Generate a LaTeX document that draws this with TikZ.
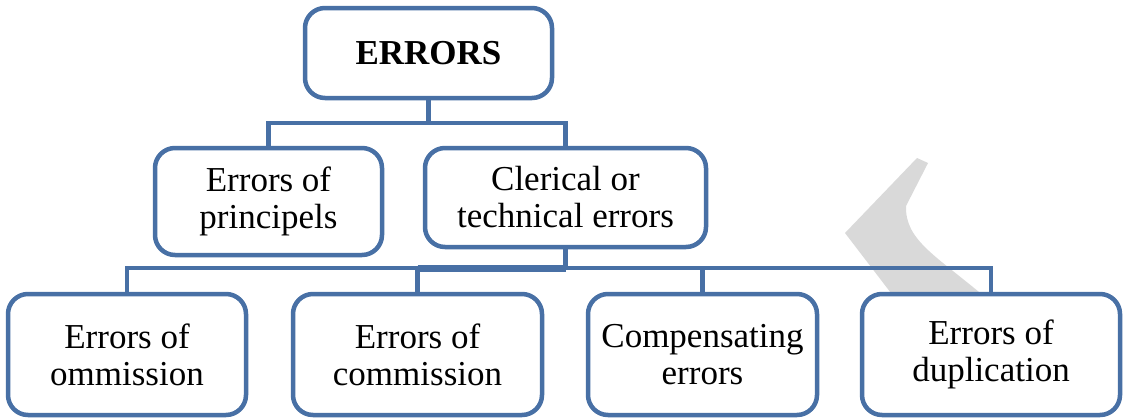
\documentclass[tikz,border=0pt]{standalone}
\usepackage{fontspec}
\setmainfont{Liberation Serif}
\definecolor{boxline}{RGB}{72,112,165}
\definecolor{swooshgray}{RGB}{217,217,217}
\begin{document}
\begin{tikzpicture}[x=1pt,y=-1pt,
  box/.style={draw=boxline, line width=4.5pt, fill=white, rounded corners=20pt,
    align=center, inner sep=0pt, font=\fontsize{35}{37}\selectfont},
  link/.style={draw=boxline, line width=4.5pt},
  heavylink/.style={draw=boxline, line width=7pt}]
\useasboundingbox[fill=white] (0,0) rectangle (1123,418);

% grey swoosh behind the lower tier
\fill[swooshgray] (845,233) -- (917,158) -- (928,163) -- (906,206)
  .. controls (905,240) and (935,255) .. (985,297) -- (894,297) -- cycle;

% levels of the horizontal bars
\coordinate (bar1) at (0,123);
\coordinate (bar2) at (0,268);

% top level
\node[box, minimum width=247pt, minimum height=90pt] (top) at (428.5,53) {\textbf{ERRORS}};

% second level
\node[box, minimum width=227pt, minimum height=107pt] (prin) at (268.5,201.5) {Errors of\\principels};
\node[box, minimum width=281pt, minimum height=99pt] (cler) at (565.5,197.5) {Clerical or\\technical errors};

% third level
\node[box, minimum width=238pt, minimum height=121pt] (omm)  at (127,354.5)   {Errors of\\ommission};
\node[box, minimum width=249pt, minimum height=121pt] (com)  at (417.5,354.5) {Errors of\\commission};
\node[box, minimum width=229pt, minimum height=121pt] (comp) at (702.5,354.5) {Compensating\\errors};
\node[box, minimum width=258pt, minimum height=121pt] (dup)  at (991,354.5)   {Errors of\\duplication};

% connectors: top to second level
\draw[link] (top.south) -- (top.south |- bar1);
\draw[link] (prin.north) -- (prin.north |- bar1) -| (cler.north);

% connectors: clerical errors to third level
\draw[link] (cler.south) -- (cler.south |- bar2);
\draw[link] (omm.north) -- (omm.north |- bar2) -| (dup.north);
\draw[link] (com.north) -- (com.north |- bar2);
\draw[link] (comp.north) -- (comp.north |- bar2);
\draw[heavylink] (com.north |- bar2) -- (cler.south |- bar2);
\end{tikzpicture}
\end{document}
